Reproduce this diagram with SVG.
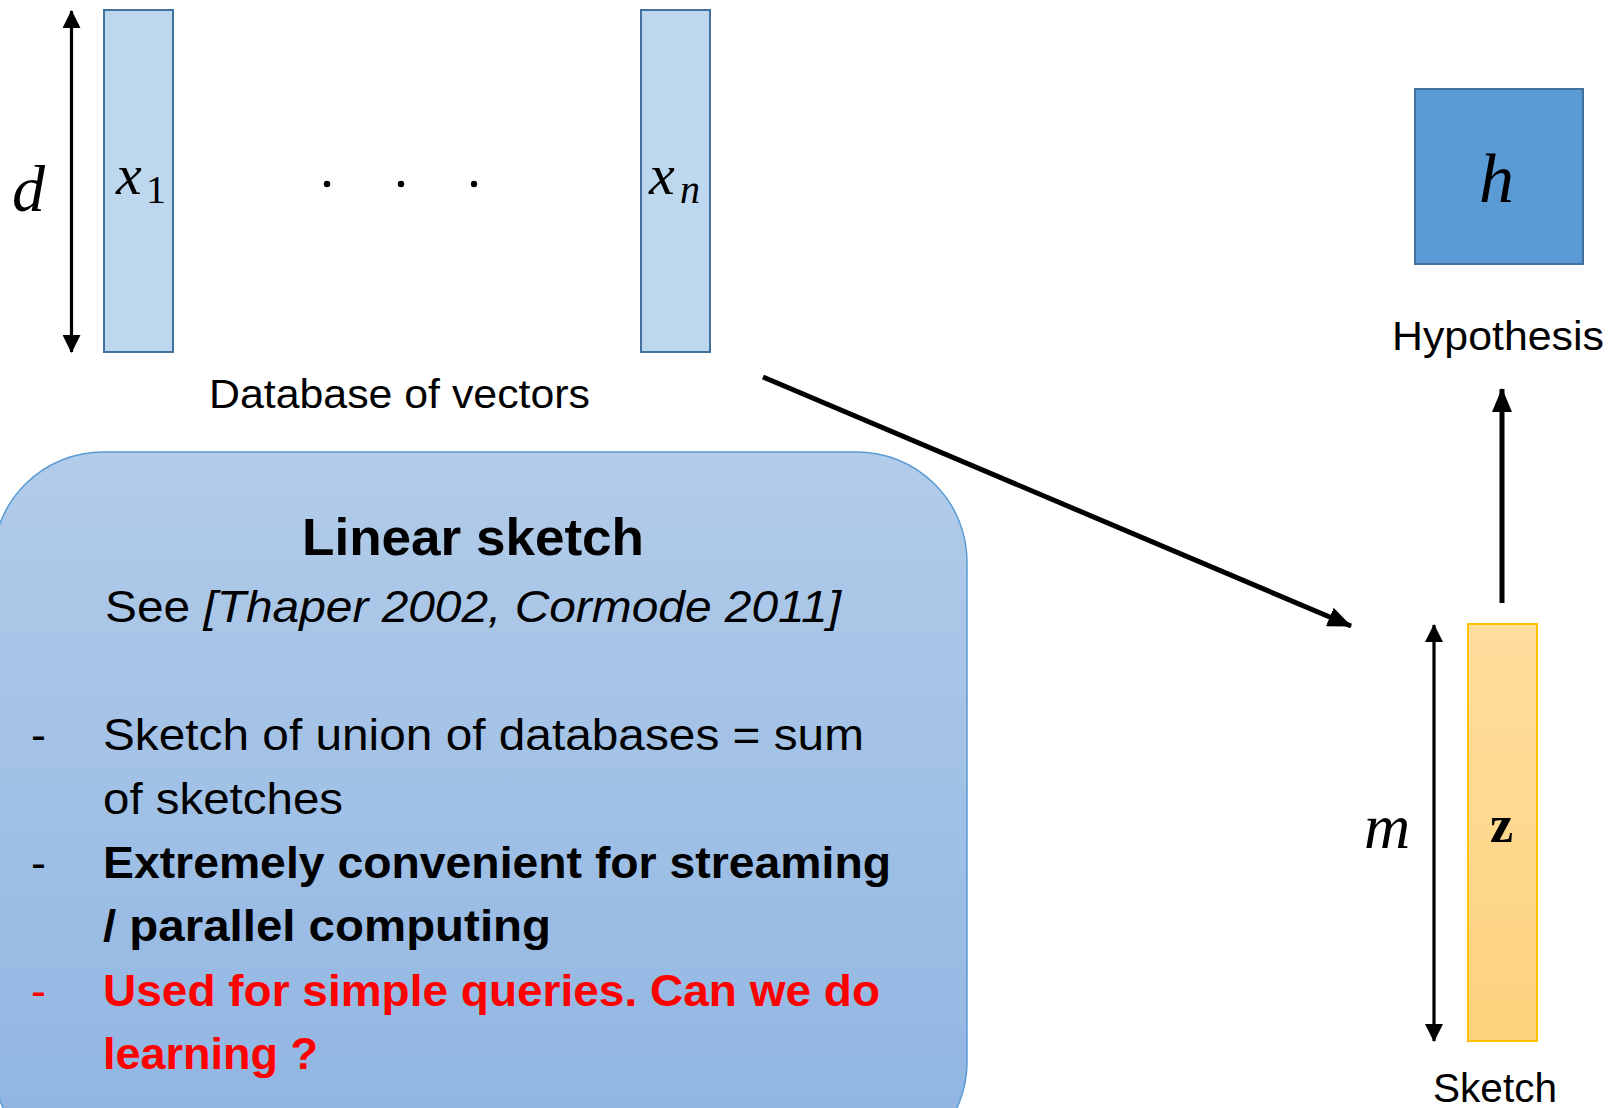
<svg xmlns="http://www.w3.org/2000/svg" width="1610" height="1108" viewBox="0 0 1610 1108">
<style>
.vec{fill:#BDD7EE;stroke:#41719C;stroke-width:2}
.math{font-family:"Liberation Serif","DejaVu Serif",serif;font-style:italic;fill:#000}
.lbl{font-family:"Liberation Sans","Open Sans",sans-serif;fill:#000}
.conn{stroke:#000;fill:none}
</style>
<defs>
<marker id="ah" markerUnits="userSpaceOnUse" viewBox="0 0 18 18" refX="17" refY="9" markerWidth="18" markerHeight="18" orient="auto-start-reverse"><path d="M0,0 L18,9 L0,18 Z" fill="#000"/></marker>
<marker id="ahBig" markerUnits="userSpaceOnUse" viewBox="0 0 24 20" refX="23" refY="10" markerWidth="24" markerHeight="20" orient="auto"><path d="M0,0 L24,10 L0,20 Z" fill="#000"/></marker>
<linearGradient id="boxGrad" x1="0" y1="0" x2="0" y2="1"><stop offset="0" stop-color="#B2CCE9"/><stop offset="1" stop-color="#8EB4E2"/></linearGradient>
<linearGradient id="zGrad" x1="0" y1="0" x2="0" y2="1"><stop offset="0" stop-color="#FFDE9E"/><stop offset="1" stop-color="#FDD27D"/></linearGradient>
</defs>

<g id="x1">
<rect class="vec" x="104" y="10" width="69" height="342"/>
<text class="math" x="116" y="194" font-size="58">x</text>
<text x="146" y="203" font-family="Liberation Serif,DejaVu Serif,serif" font-size="40">1</text>
</g>
<g id="xn">
<rect class="vec" x="641" y="10" width="69" height="342"/>
<text class="math" x="649" y="194" font-size="58">x</text>
<text class="math" x="680" y="203" font-size="40">n</text>
</g>
<g id="dots">
<circle cx="327" cy="184" r="3.2" fill="#000"/>
<circle cx="401" cy="184" r="3.2" fill="#000"/>
<circle cx="474" cy="184" r="3.2" fill="#000"/>
</g>
<g id="d-label"><text class="math" x="12" y="211" font-size="66">d</text></g>
<g id="db-label"><text class="lbl" x="209" y="408" font-size="40" textLength="381" lengthAdjust="spacingAndGlyphs">Database of vectors</text></g>

<g id="h">
<rect x="1415" y="89" width="168" height="175" fill="#5B9BD5" stroke="#41719C" stroke-width="2"/>
<text class="math" x="1479" y="202" font-size="70">h</text>
</g>
<g id="hyp-label"><text class="lbl" x="1392" y="350" font-size="41" textLength="212" lengthAdjust="spacingAndGlyphs">Hypothesis</text></g>

<g id="z">
<rect x="1468" y="624" width="69" height="417" fill="url(#zGrad)" stroke="#FFC000" stroke-width="2"/>
<text x="1490" y="842" font-family="Liberation Serif,DejaVu Serif,serif" font-weight="bold" font-size="52">z</text>
</g>
<g id="m-label"><text class="math" x="1364" y="848" font-size="64">m</text></g>
<g id="sketch-label"><text class="lbl" x="1433" y="1102" font-size="41" textLength="124" lengthAdjust="spacingAndGlyphs">Sketch</text></g>

<g id="linear-sketch-box">
<rect x="-7" y="452" width="974" height="720" rx="110" ry="110" fill="url(#boxGrad)" stroke="#5B9BD5" stroke-width="1.5"/>
<text class="lbl" x="473" y="555" font-size="52" font-weight="bold" text-anchor="middle" textLength="342" lengthAdjust="spacingAndGlyphs">Linear sketch</text>
<text class="lbl" x="105" y="622" font-size="45" textLength="736" lengthAdjust="spacingAndGlyphs">See <tspan font-style="italic">[Thaper 2002, Cormode 2011]</tspan></text>
<text class="lbl" x="31" y="750" font-size="45">-</text>
<text class="lbl" x="103" y="750" font-size="45" textLength="761" lengthAdjust="spacingAndGlyphs">Sketch of union of databases = sum</text>
<text class="lbl" x="103" y="814" font-size="45" textLength="240" lengthAdjust="spacingAndGlyphs">of sketches</text>
<text class="lbl" x="31" y="878" font-size="45">-</text>
<text class="lbl" x="103" y="878" font-size="45" font-weight="bold" textLength="788" lengthAdjust="spacingAndGlyphs">Extremely convenient for streaming</text>
<text class="lbl" x="103" y="941" font-size="45" font-weight="bold" textLength="448" lengthAdjust="spacingAndGlyphs">/ parallel computing</text>
<text class="lbl" x="31" y="1006" font-size="45" style="fill:#FF0000">-</text>
<text class="lbl" x="103" y="1006" font-size="45" font-weight="bold" style="fill:#FF0000" textLength="777" lengthAdjust="spacingAndGlyphs">Used for simple queries. Can we do</text>
<text class="lbl" x="103" y="1069" font-size="45" font-weight="bold" style="fill:#FF0000" textLength="215" lengthAdjust="spacingAndGlyphs">learning ?</text>
</g>

<g id="connectors">
<line class="conn" x1="71.5" y1="11" x2="71.5" y2="352" stroke-width="3.2" marker-start="url(#ah)" marker-end="url(#ah)"/>
<line class="conn" x1="1434" y1="625" x2="1434" y2="1041" stroke-width="3.2" marker-start="url(#ah)" marker-end="url(#ah)"/>
<line class="conn" x1="1502" y1="603" x2="1502" y2="389" stroke-width="5" marker-end="url(#ahBig)"/>
<line class="conn" x1="763" y1="377" x2="1351" y2="626" stroke-width="5" marker-end="url(#ahBig)"/>
</g>
</svg>
